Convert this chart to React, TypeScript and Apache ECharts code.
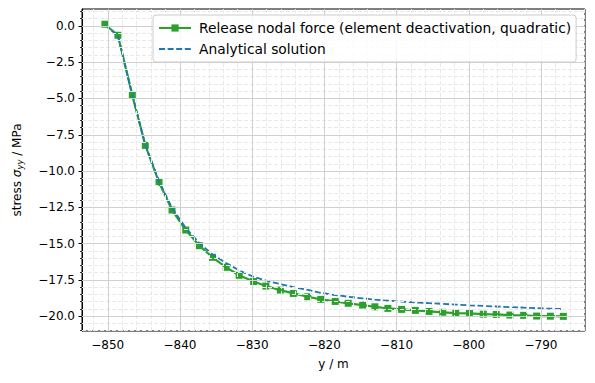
import React, { useEffect, useRef } from "react";
import * as echarts from "echarts";

// y coordinate (m) of the nodes
const yCoords = [
  -850.4, -848.6, -846.6, -844.8, -842.9, -841.1, -839.2, -837.3, -835.5, -833.6,
  -831.8, -829.8, -828.1, -826.1, -824.3, -822.3, -820.5, -818.5, -816.7, -814.7,
  -813.0, -811.2, -809.3, -807.4, -805.5, -803.6, -801.8, -799.9, -798.0, -796.2,
  -794.3, -792.4, -790.6, -788.7, -786.9,
];
// Release nodal force (element deactivation, quadratic)
const numericStress = [
  0.12, -0.64, -4.78, -8.23, -10.78, -12.69, -14.07, -15.15, -15.95, -16.64,
  -17.19, -17.62, -17.93, -18.21, -18.44, -18.67, -18.85, -18.99, -19.12, -19.24,
  -19.36, -19.47, -19.54, -19.61, -19.68, -19.74, -19.8, -19.82, -19.87, -19.89,
  -19.93, -19.95, -20.0, -20.01, -20.02,
];
// Analytical solution
const analyticStress = [
  0.06, -0.68, -4.75, -8.2, -10.7, -12.55, -13.92, -14.98, -15.75, -16.35,
  -16.85, -17.3, -17.55, -17.8, -18.0, -18.2, -18.4, -18.55, -18.67, -18.78,
  -18.87, -18.94, -19.0, -19.06, -19.11, -19.16, -19.21, -19.26, -19.3, -19.34,
  -19.38, -19.42, -19.46, -19.49, -19.52,
];

const xMajorTicks = [-850, -840, -830, -820, -810, -800, -790];
const yMajorTicks = [0, -2.5, -5, -7.5, -10, -12.5, -15, -17.5, -20];

const seriesNames = [
  "Release nodal force (element deactivation, quadratic)",
  "Analytical solution",
];

const X_MIN = -853.57;
const X_MAX = -783.9;
const Y_MIN = -21.03;
const Y_MAX = 1.17;

const FONT = "DejaVu Sans";

function minorValues(from: number, to: number, step: number, majorStep: number) {
  const out: number[] = [];
  const n = Math.round((to - from) / step);
  for (let i = 0; i <= n; i++) {
    const v = +(from + i * step).toFixed(4);
    const r = v / majorStep;
    if (Math.abs(r - Math.round(r)) > 1e-6) out.push(v);
  }
  return out;
}

const fmt = (v: number, d: number) => {
  const s = Math.abs(v) < 1e-9 ? (0).toFixed(d) : v.toFixed(d);
  return s.replace("-", "\u2212");
};

export default function App() {
  const ref = useRef<HTMLDivElement>(null);
  useEffect(() => {
    document.body.style.margin = "0";
    if (!ref.current) return;
    const chart = echarts.init(ref.current, undefined, { renderer: "svg" });

    const xMinor = minorValues(-852, -784, 2, 10);
    const yMinor = minorValues(-21, 1, 0.5, 2.5);

    const gridLines: any[] = [];
    xMinor.forEach((v) =>
      gridLines.push({ xAxis: v, lineStyle: { color: "#e9e9e9", width: 1, type: [4, 2] } })
    );
    yMinor.forEach((v) =>
      gridLines.push({ yAxis: v, lineStyle: { color: "#e9e9e9", width: 1, type: [4, 2] } })
    );
    xMajorTicks.forEach((v) =>
      gridLines.push({ xAxis: v, lineStyle: { color: "#d0d0d0", width: 1, type: "solid" } })
    );
    yMajorTicks.forEach((v) =>
      gridLines.push({ yAxis: v, lineStyle: { color: "#d0d0d0", width: 1, type: "solid" } })
    );

    const numericData = yCoords.map((x, i) => [x, numericStress[i]]);
    const analyticData = yCoords.map((x, i) => [x, analyticStress[i]]);

    chart.setOption({
      animation: false,
      backgroundColor: "#ffffff",
      textStyle: { fontFamily: FONT },
      grid: {
        left: 82,
        right: 10,
        top: 9,
        bottom: 52,
        show: true,
        borderColor: "#000",
        borderWidth: 1,
        backgroundColor: "#fff",
      },
      legend: {
        left: 153,
        top: 15,
        z: 50,
        orient: "vertical",
        padding: [5, 5, 5, 5],
        itemGap: 5,
        itemWidth: 32,
        itemHeight: 9,
        selectedMode: false,
        backgroundColor: "rgba(255,255,255,0.85)",
        borderColor: "#cccccc",
        borderWidth: 1,
        borderRadius: 3,
        textStyle: {
          fontFamily: FONT,
          fontSize: 13.8,
          color: "#000",
          padding: [0, 0, 0, 3],
          lineHeight: 16,
        },
        data: [
          { name: seriesNames[0] },
          { name: seriesNames[1], itemStyle: { opacity: 0 } },
        ],
      },
      xAxis: [
        {
          type: "value",
          min: X_MIN,
          max: X_MAX,
          position: "bottom",
          name: "y / m",
          nameLocation: "middle",
          nameGap: 27,
          nameTextStyle: { fontFamily: FONT, fontSize: 12, color: "#000" },
          axisLine: { show: true, lineStyle: { color: "#000", width: 1 } },
          axisTick: {
            show: true,
            inside: false,
            length: 3.5,
            lineStyle: { color: "#000", width: 1 },
            customValues: xMajorTicks,
          },
          axisLabel: {
            show: true,
            margin: 8,
            fontFamily: FONT,
            fontSize: 12,
            color: "#000",
            customValues: xMajorTicks,
            formatter: (v: number) => fmt(v, 0),
          },
          splitLine: { show: false },
        },
        {
          type: "value",
          min: X_MIN,
          max: X_MAX,
          position: "bottom",
          axisLine: { show: false },
          axisTick: {
            show: true,
            length: 2,
            lineStyle: { color: "#000", width: 0.8 },
            customValues: xMinor,
          },
          axisLabel: { show: false },
          splitLine: { show: false },
        },
      ],
      yAxis: [
        {
          type: "value",
          min: Y_MIN,
          max: Y_MAX,
          position: "left",
          name: "stress {i|σ}{s|yy} / MPa",
          nameLocation: "middle",
          nameRotate: 90,
          nameGap: 58,
          nameTextStyle: {
            fontFamily: FONT,
            fontSize: 12,
            color: "#000",
            rich: {
              i: { fontFamily: FONT, fontSize: 12, fontStyle: "italic", color: "#000" },
              s: {
                fontFamily: FONT,
                fontSize: 8.5,
                fontStyle: "italic",
                color: "#000",
                verticalAlign: "bottom",
                padding: [5, 0, 0, 0],
              },
            },
          },
          axisLine: { show: true, lineStyle: { color: "#000", width: 1 } },
          axisTick: {
            show: true,
            inside: false,
            length: 3.5,
            lineStyle: { color: "#000", width: 1 },
            customValues: yMajorTicks,
          },
          axisLabel: {
            show: true,
            margin: 7,
            fontFamily: FONT,
            fontSize: 12,
            color: "#000",
            customValues: yMajorTicks,
            formatter: (v: number) => fmt(v, 1),
          },
          splitLine: { show: false },
        },
        {
          type: "value",
          min: Y_MIN,
          max: Y_MAX,
          position: "left",
          axisLine: { show: false },
          axisTick: {
            show: true,
            length: 2,
            lineStyle: { color: "#000", width: 0.8 },
            customValues: yMinor,
          },
          axisLabel: { show: false },
          splitLine: { show: false },
        },
      ],
      series: [
        {
          name: "grid",
          type: "line",
          data: [],
          z: 0,
          silent: true,
          markLine: {
            silent: true,
            symbol: ["none", "none"],
            label: { show: false },
            animation: false,
            data: gridLines,
          },
        },
        {
          name: seriesNames[0],
          type: "line",
          data: numericData,
          z: 2,
          symbol: "rect",
          symbolSize: 7,
          showSymbol: true,
          color: "#2ca02c",
          itemStyle: { color: "#2ca02c" },
          lineStyle: { color: "#2ca02c", width: 2.2 },
        },
        {
          name: seriesNames[1],
          type: "line",
          data: analyticData,
          z: 3,
          symbol: "none",
          showSymbol: false,
          color: "#1f77b4",
          itemStyle: { color: "#1f77b4" },
          lineStyle: { color: "#1f77b4", width: 1.8, type: [6, 2.6] },
        },
      ],
    });
    return () => chart.dispose();
  }, []);
  return <div ref={ref} style={{ width: 595, height: 383 }} />;
}
